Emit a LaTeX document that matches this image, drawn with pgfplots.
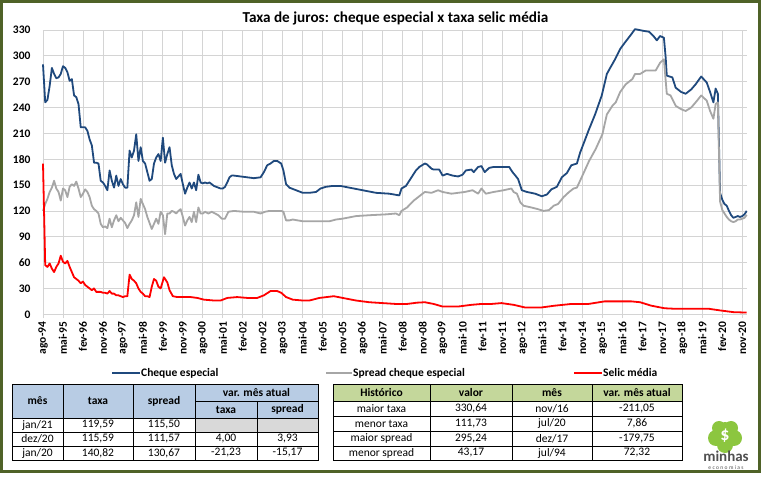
\documentclass[border=0pt]{standalone}
\usepackage{pgfplots}
\pgfplotsset{compat=1.18}
\usepackage{fontspec}
\setmainfont{Carlito}
\definecolor{cblue}{HTML}{1F497D}
\definecolor{cgray}{HTML}{A6A6A6}
\definecolor{cred}{HTML}{FF0000}
\definecolor{frame}{HTML}{4F6228}
\definecolor{hblue}{HTML}{B8CCE4}
\definecolor{hgreen}{HTML}{C4D79B}
\definecolor{cellgray}{HTML}{D9D9D9}
\definecolor{gridc}{HTML}{D4D4D4}
\definecolor{logog}{HTML}{8CC63F}
\definecolor{logot}{HTML}{505050}
\newcommand{\fs}{\fontsize{11.5}{13}\selectfont}
\begin{document}
\begin{tikzpicture}[x=1pt,y=1pt]
\useasboundingbox (0,0) rectangle (762,476);
\fill[white] (0,0) rectangle (762,476);
\begin{axis}[
  at={(43pt,161.7pt)}, anchor=south west,
  scale only axis, width=703.7pt, height=284.3pt,
  xmin=0, xmax=317, ymin=0, ymax=330,
  xtick={0,9,...,315},
  xticklabels={ago-94,mai-95,fev-96,nov-96,ago-97,mai-98,fev-99,nov-99,ago-00,mai-01,fev-02,nov-02,ago-03,mai-04,fev-05,nov-05,ago-06,mai-07,fev-08,nov-08,ago-09,mai-10,fev-11,nov-11,ago-12,mai-13,fev-14,nov-14,ago-15,mai-16,fev-17,nov-17,ago-18,mai-19,fev-20,nov-20},
  ytick={0,30,...,330},
  grid=major, major grid style={gridc, line width=0.8pt},
  axis x line*=bottom, axis y line*=left,
  axis line style={gridc, line width=0.8pt, -},
  tick align=outside, major tick length=4pt,
  xtick style={gridc, line width=0.8pt},
  ytick style={draw=none},
  x tick label style={rotate=90, anchor=east, font=\fs\bfseries, text=black},
  y tick label style={font=\fs\bfseries, text=black, xshift=-5pt},
  /pgf/number format/assume math mode=true,
  clip=false,
]
\addplot[cblue, line width=1.8pt, line join=round] coordinates {
(0,290)(1,246)(2,249)(3,265)(4,286)(5,279)(6,274)(7,275)(8,279)(9,288)(10,286)(11,281)(12,271)(13,273)(14,254)(15,252)(16,244)(17,217)(18,217)(19,217)(20,213)(21,203)(22,196)(23,176)(24,176)(25,175)(26,155)(27,153)(28,149)(29,144)(30,167)(31,155)(32,147)(33,161)(34,149)(35,157)(36,151)(37,147)(38,147)(39,190)(40,182)(41,190)(42,209)(43,178)(44,194)(45,178)(46,175)(47,165)(48,155)(49,157)(50,175)(51,182)(52,186)(53,178)(54,205)(55,176)(56,186)(57,194)(58,173)(59,163)(60,157)(61,160)(62,163)(63,151)(64,140)(65,147)(66,153)(67,146)(68,153)(69,144)(70,162)(71,153)(72,152)(73,153)(74,152)(75,153)(76,151)(77,149)(78,148)(79,147)(80,146)(81,146)(82,148)(83,153)(84,159)(85,161)(86,161)(89,160)(92,159)(95,158)(98,159)(99.5,165)(101,173)(102.5,175)(104,178)(105.5,178)(107.3,175)(108.3,167)(109.5,151)(111,147)(114,144)(117,141)(120,141)(123,142)(125,146)(127.5,148)(130.5,149)(134,149)(138,147)(144,144)(150,141)(156,140)(160.5,138)(161.5,146)(163.5,149)(166,159)(168,167)(169.5,171)(172,175)(173,174)(175,169)(176,168)(178.5,168)(180,161)(182,163)(184.5,161)(187,160)(189,162)(190.5,167)(193,168)(194,165)(196,171)(197.5,172)(199,165)(201,170)(203,171)(207,171)(210,171)(211.5,165)(212.8,161)(214,157)(215.7,144)(218,142)(221.7,140)(224.7,137)(227,139)(229,145)(231.5,148)(233.7,159)(236,164)(238,173)(240.5,175)(242,188)(243.5,198)(245.7,213)(248.7,232)(251.7,254)(254,279)(255.5,286)(257.7,296)(260,308)(262,315)(264.4,323)(266.7,331)(270.5,329)(273,328)(275,323)(276.5,318)(278,323)(279.7,321)(280.5,298)(281,277)(283.5,275)(285,263)(287.5,258)(289.5,256)(292,261)(294,267)(296.5,276)(299,269)(300.5,258)(302,246)(303,262)(304,256)(305,141)(306,133)(307,128)(308,126)(309,120)(310,115)(311,112)(312,113)(313,114)(314,113)(315,114)(316,116)(317,120)
};
\addplot[cgray, line width=1.8pt, line join=round] coordinates {
(0,120)(1,128)(2,134)(3,142)(4,147)(5,155)(6,146)(7,142)(8,132)(9,146)(10,144)(11,136)(12,148)(13,151)(14,149)(15,154)(16,146)(17,136)(18,140)(19,145)(20,142)(21,136)(22,126)(23,122)(24,120)(25,117)(26,105)(27,101)(28,102)(29,100)(30,111)(31,101)(32,109)(33,115)(34,108)(35,112)(36,109)(37,106)(38,100)(39,105)(40,109)(41,115)(42,130)(43,113)(44,134)(45,128)(46,122)(47,113)(48,106)(49,99)(50,105)(51,111)(52,105)(53,119)(54,115)(55,93)(56,117)(57,117)(58,120)(59,119)(60,117)(61,120)(62,122)(63,113)(64,103)(65,109)(66,113)(67,107)(68,119)(69,107)(70,124)(71,117)(72,117)(73,119)(74.5,117)(76,119)(77.5,117)(79,115)(80.5,111)(82,111)(83.5,119)(86,120)(90.5,119)(95,119)(98,117)(100,119)(102,120)(104,120)(107.3,120)(108.3,119)(109.5,109)(111,109)(112.5,110)(117,108)(123,108)(129,108)(132,110)(135,111)(141,114)(147,115)(154.5,116)(159,117)(160.5,115)(161.5,120)(164,124)(167,132)(170,138)(172,142)(175,141)(178,144)(180,142)(184,140)(187,141)(190,142)(193.5,144)(196,140)(197.5,146)(199.5,140)(203,142)(207.5,144)(211,146)(212,142)(213.5,140)(215,130)(216.5,126)(220,124)(223,122)(225.5,120)(228,121)(230,126)(232,128)(234.5,136)(237,142)(239,146)(240.5,147)(243,161)(246,178)(249,192)(252,209)(254,232)(256.5,242)(258,246)(260,258)(262.5,267)(265.5,273)(266.7,279)(269,279)(271.5,283)(274,283)(276,283)(278,292)(279.7,296)(281,256)(282.7,254)(285,242)(287.5,238)(289.5,236)(292,240)(294,246)(296.5,254)(299,248)(300.5,236)(302,227)(303,244)(304,246)(305,131)(306,121)(307,117)(308,113)(309,110)(310,108)(311,107)(312,108)(313,110)(314,110)(315,111)(316,112)(317,115.5)
};
\addplot[cred, line width=1.8pt, line join=round] coordinates {
(0,175)(1,57)(2,55)(3,59)(4,53)(5,49)(6,55)(7,59)(8,68)(9,61)(10,59)(11,62)(12,55)(13,49)(14,43)(15,41)(16,39)(17,36)(18,38)(19,34)(20,32)(21,30)(22,28)(23,30)(24,26)(25,26)(26,26)(27,25)(28,25)(29,24)(30,27)(31,24)(32,24)(33,22)(34,22)(35,21)(36,20)(37,21)(38,21)(39,46)(40,41)(41,39)(42,36)(43,30)(44,26)(45,24)(46,21)(47,21)(48,20)(49,32)(50,41)(51,39)(52,32)(53,30)(54.5,43)(56,37)(57,28)(58.5,21)(60.5,20)(66.5,20)(69.5,19)(72.5,17)(77,16)(80,16)(83,19)(87.5,20)(92,19)(96.5,19)(99.5,22)(102.5,27)(105.5,27)(107.3,25)(109.5,20)(112.5,17)(117,16)(120,16)(124.5,19)(131,21)(135,19)(141,16)(147,14)(153,13)(159,12)(164,12)(168.5,13.5)(172,14)(176,12)(180,9)(187,9)(193,11)(197.5,12)(202,12)(206.5,13)(212,11)(217,8)(224.7,8)(230.5,10)(238,12)(245.7,12)(253,15)(260.7,15)(265,15)(269,14)(274,10)(280,7)(284,6.5)(299.7,6.5)(305,4.5)(311,2.5)(317,2)
};
\end{axis}
% title
\node[font=\fontsize{15.2}{17}\selectfont\bfseries] at (395.5,457.5) {Taxa de juros: cheque especial x taxa selic média};
% legend
\begin{scope}[font=\fs\bfseries]
\draw[cblue, line width=1.8pt] (112,103) -- (140,103);
\node[anchor=west, inner sep=1pt] at (140,103) {Cheque especial};
\draw[cgray, line width=1.8pt] (326,103) -- (352,103);
\node[anchor=west, inner sep=1pt] at (352,103) {Spread cheque especial};
\draw[cred, line width=1.8pt] (574,103) -- (602,103);
\node[anchor=west, inner sep=1pt] at (602,103) {Selic média};
\end{scope}
% left table
\fill[hblue] (12,58) rectangle (318,92);
\fill[cellgray] (195,44) rectangle (318,58);
\begin{scope}[line width=0.7pt]
\draw (12,16) rectangle (318,92);
\draw (195,75)--(318,75) (12,58)--(318,58) (12,44)--(318,44) (12,30)--(318,30);
\draw (63,16)--(63,92) (133,16)--(133,92) (195,16)--(195,92) (257,16)--(257,75);
\end{scope}
\begin{scope}[font=\fs\bfseries]
\node at (37.5,75) {mês};
\node at (98,75) {taxa};
\node at (164,75) {spread};
\node at (256.5,83.5) {var. mês atual};
\node at (226,66.5) {taxa};
\node at (287.5,66.5) {spread};
\end{scope}
\begin{scope}[font=\fs]
\node at (37.5,51) {jan/21}; \node at (98,51) {119,59}; \node at (164,51) {115,50};
\node at (37.5,37) {dez/20}; \node at (98,37) {115,59}; \node at (164,37) {111,57}; \node at (226,37) {4,00}; \node at (287.5,37) {3,93};
\node at (37.5,23) {jan/20}; \node at (98,23) {140,82}; \node at (164,23) {130,67}; \node at (226,23) {-21,23}; \node at (287.5,23) {-15,17};
\end{scope}
% right table
\fill[hgreen] (333,75) rectangle (682,92);
\begin{scope}[line width=0.7pt]
\draw (333,16) rectangle (682,92);
\draw (333,75)--(682,75) (333,60)--(682,60) (333,45)--(682,45) (333,30)--(682,30);
\draw (430,16)--(430,92) (512,16)--(512,92) (592,16)--(592,92);
\end{scope}
\begin{scope}[font=\fs\bfseries]
\node at (381.5,83.5) {Histórico}; \node at (471,83.5) {valor}; \node at (552,83.5) {mês}; \node at (637,83.5) {var. mês atual};
\end{scope}
\begin{scope}[font=\fs]
\node at (381.5,67.5) {maior taxa}; \node at (471,67.5) {330,64}; \node at (552,67.5) {nov/16}; \node at (637,67.5) {-211,05};
\node at (381.5,52.5) {menor taxa}; \node at (471,52.5) {111,73}; \node at (552,52.5) {jul/20}; \node at (637,52.5) {7,86};
\node at (381.5,37.5) {maior spread}; \node at (471,37.5) {295,24}; \node at (552,37.5) {dez/17}; \node at (637,37.5) {-179,75};
\node at (381.5,23) {menor spread}; \node at (471,23) {43,17}; \node at (552,23) {jul/94}; \node at (637,23) {72,32};
\end{scope}
% logo
\fill[logog] (725,42) circle (12) (716,38) circle (8) (734,38) circle (8) (719,48) circle (7) (731,48) circle (7) (725,31) circle (8);
\node[white, font=\fontsize{18}{18}\selectfont\bfseries] at (725,40) {\$};
\node[logot, inner sep=0pt, font=\fontsize{15}{15}\selectfont\bfseries] at (726,19.5) {minhas};
\node[logot, inner sep=0pt, font=\fontsize{5.5}{6}\selectfont\addfontfeatures{LetterSpace=25}] at (726,8.5) {economias};
% frame
\draw[frame, line width=3pt] (1.5,5) rectangle (759.5,474.5);
\end{tikzpicture}
\end{document}
